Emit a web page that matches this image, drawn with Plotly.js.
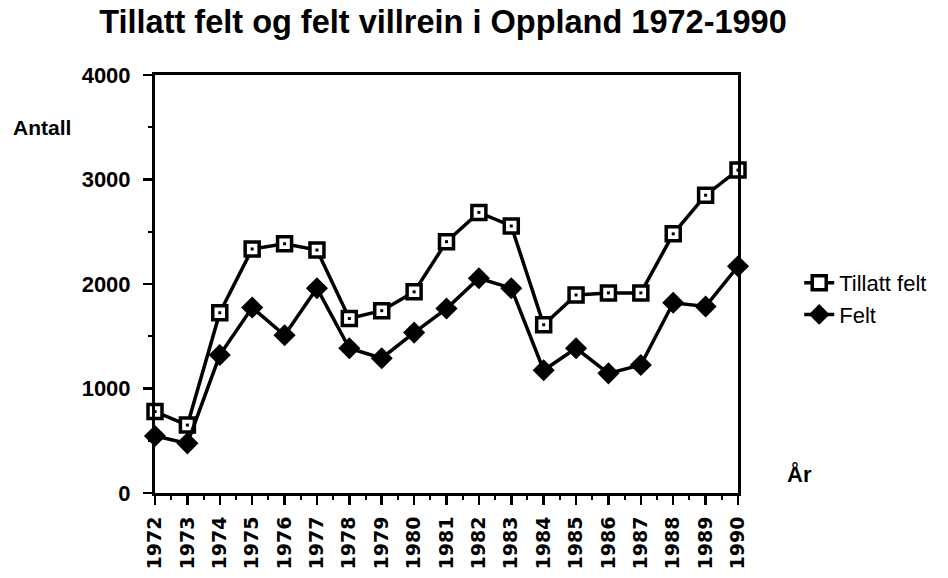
<!DOCTYPE html>
<html>
<head>
<meta charset="utf-8">
<script src="https://cdn.plot.ly/plotly-3.0.1.min.js"></script>
<style>html,body{margin:0;padding:0;background:#fff;}#chart{width:948px;height:578px;}</style>
</head>
<body>
<div id="chart"></div>
<script>
const years = [1972,1973,1974,1975,1976,1977,1978,1979,1980,1981,1982,1983,1984,1985,1986,1987,1988,1989,1990];
const tillattFelt = [780,650,1725,2335,2385,2325,1670,1745,1925,2405,2685,2555,1610,1895,1915,1915,2480,2850,3090];
const felt = [545,475,1320,1775,1510,1960,1385,1290,1535,1765,2055,1960,1175,1385,1145,1225,1820,1785,2170];
const yTicks = [0,1000,2000,3000,4000];
const yTickLabels = ['0','1000','2000','3000','4000'];

const boldFont = {family:'Liberation Sans, Arial, sans-serif', color:'#000', weight:'bold'};

const traces = [
  {
    x: years, y: tillattFelt, name: 'Tillatt felt', type: 'scatter', mode: 'lines+markers',
    cliponaxis: false,
    line: {color:'#000', width:3.5},
    marker: {symbol:'square', size:14, color:'#fff', line:{color:'#000', width:3.5}}
  },
  {
    x: years, y: tillattFelt, name: 'Tillatt felt dot', type: 'scatter', mode: 'markers',
    cliponaxis: false, showlegend: false,
    marker: {symbol:'square', size:3, color:'#000', line:{width:0}}
  },
  {
    x: years, y: felt, name: 'Felt', type: 'scatter', mode: 'lines+markers',
    cliponaxis: false,
    line: {color:'#000', width:3.5},
    marker: {symbol:'diamond', size:17, color:'#000', line:{color:'#000', width:0}}
  }
];

const layout = {
  width: 948, height: 578,
  paper_bgcolor:'#fff', plot_bgcolor:'#fff',
  margin: {l:155, r:210, t:75, b:85, autoexpand:false},
  title: {
    text: 'Tillatt felt og felt villrein i Oppland 1972-1990',
    font: Object.assign({}, boldFont, {size:32.5}),
    x: 0.494, xref: 'paper', xanchor: 'center',
    y: 0.963, yref: 'container', yanchor: 'middle'
  },
  xaxis: {
    range: [1972, 1990],
    tickmode: 'array', tickvals: years, ticktext: years.map(String),
    tickangle: -90,
    ticks: 'outside', ticklen: 9, tickwidth: 2.5, tickcolor:'#000',
    minor: {dtick: 0.5, tick0: 1972, ticks:'outside', ticklen:4, tickwidth:2, tickcolor:'#000'},
    tickfont: {family:'DejaVu Sans, sans-serif', size:19, color:'#000', weight:'bold'},
    ticklabelstandoff: 4,
    showline: true, linecolor:'#000', linewidth: 3, mirror: true,
    showgrid: false, zeroline: false, fixedrange: true
  },
  yaxis: {
    range: [0, 4000],
    tickmode: 'array', tickvals: yTicks, ticktext: yTickLabels,
    ticks: 'outside', ticklen: 9, tickwidth: 2.5, tickcolor:'#000',
    minor: {dtick: 500, tick0: 0, ticks:'outside', ticklen:4, tickwidth:2, tickcolor:'#000'},
    tickfont: Object.assign({}, boldFont, {size:22}),
    ticklabelstandoff: 8,
    showline: true, linecolor:'#000', linewidth: 3, mirror: true,
    showgrid: false, zeroline: false, fixedrange: true
  },
  showlegend: true,
  legend: {
    x: 1.105, y: 0.464, xanchor:'left', yanchor:'middle',
    font: {family:'Liberation Sans, Arial, sans-serif', size:22, color:'#000'},
    bgcolor:'rgba(0,0,0,0)', borderwidth:0, itemwidth:30, tracegroupgap:0
  },
  annotations: [
    {text:'Antall', xref:'paper', yref:'paper', x:-0.193, y:0.875, xanchor:'center', yanchor:'middle', showarrow:false,
     font: Object.assign({}, boldFont, {size:21})},
    {text:'År', xref:'paper', yref:'paper', x:1.105, y:0.045, xanchor:'center', yanchor:'middle', showarrow:false,
     font: Object.assign({}, boldFont, {size:22})}
  ]
};

Plotly.newPlot('chart', traces, layout, {displayModeBar:false, staticPlot:true});
</script>
</body>
</html>
